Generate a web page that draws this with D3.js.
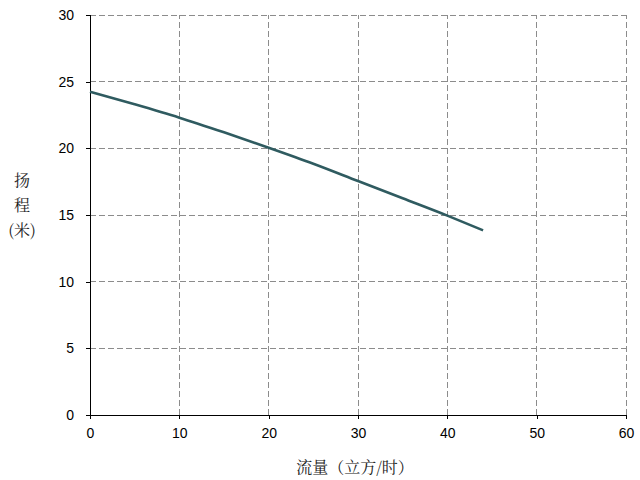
<!DOCTYPE html>
<html><head><meta charset="utf-8">
<script src="https://cdn.jsdelivr.net/npm/d3@7"></script>
<style>body{margin:0;background:#fff}svg{display:block}</style>
</head><body>
<svg id="c" width="640" height="480"></svg>
<script>
const flow = [0, 5, 10, 15, 20, 25, 30, 35, 40, 44];
const head = [24.25, 23.3, 22.3, 21.2, 20.05, 18.85, 17.55, 16.25, 14.95, 13.85];
const xTicks = [0, 10, 20, 30, 40, 50, 60];
const yTicks = [0, 5, 10, 15, 20, 25, 30];
const xTitle = "流量（立方/时）";
const yTitle = ["扬", "程", "(米)"];

const svg = d3.select("#c");
const x = d3.scaleLinear().domain([0, 60]).range([90, 626]);
const y = d3.scaleLinear().domain([0, 30]).range([415, 15]);
const font = "'Liberation Sans', Arial, sans-serif";

// grid
svg.append("g").selectAll("line").data(xTicks.slice(1)).join("line")
  .attr("x1", d => x(d)).attr("x2", d => x(d)).attr("y1", y(0)).attr("y2", y(30))
  .attr("stroke", "#8c8c8c").attr("stroke-width", 1).attr("stroke-dasharray", "6,3")
  .attr("shape-rendering", "crispEdges");
svg.append("g").selectAll("line").data(yTicks.slice(1)).join("line")
  .attr("x1", x(0)).attr("x2", x(60)).attr("y1", d => y(d)).attr("y2", d => y(d))
  .attr("stroke", "#8c8c8c").attr("stroke-width", 1).attr("stroke-dasharray", "6,3")
  .attr("shape-rendering", "crispEdges");

// axes
const xAxis = svg.append("g").attr("transform", `translate(0,${y(0)})`)
  .call(d3.axisBottom(x).tickValues(xTicks).tickSize(4).tickPadding(9).tickFormat(d3.format("d")));
const yAxis = svg.append("g").attr("transform", `translate(${x(0)},0)`)
  .call(d3.axisLeft(y).tickValues(yTicks).tickSize(4).tickPadding(12).tickFormat(d3.format("d")));
[xAxis, yAxis].forEach(g => {
  g.select(".domain").remove();
  g.selectAll("line").attr("stroke", "#000").attr("shape-rendering", "crispEdges");
  g.selectAll("text").attr("font-family", font).attr("font-size", 14).attr("fill", "#000");
});
svg.append("line").attr("x1", x(0)).attr("x2", x(60)).attr("y1", y(0)).attr("y2", y(0))
  .attr("stroke", "#000").attr("shape-rendering", "crispEdges");
svg.append("line").attr("x1", x(0)).attr("x2", x(0)).attr("y1", y(0)).attr("y2", y(30))
  .attr("stroke", "#000").attr("shape-rendering", "crispEdges");

// line
svg.append("path").datum(flow.map((f, i) => [f, head[i]]))
  .attr("d", d3.line().x(d => x(d[0])).y(d => y(d[1])).curve(d3.curveMonotoneX))
  .attr("fill", "none").attr("stroke", "#2f5b60").attr("stroke-width", 2.6);

// titles
svg.append("text").attr("x", 355).attr("y", 473).attr("text-anchor", "middle")
  .attr("font-family", "'Noto Serif CJK SC', 'Noto Sans CJK SC', sans-serif").attr("font-size", 16).attr("fill", "#222")
  .text(xTitle);
svg.append("g").selectAll("text").data(yTitle).join("text")
  .attr("x", 22).attr("y", (d, i) => 186 + i * 25).attr("text-anchor", "middle")
  .attr("font-family", "'Noto Serif CJK SC', 'Noto Sans CJK SC', sans-serif").attr("font-size", 16).attr("fill", "#222")
  .text(d => d);
</script>
</body></html>
